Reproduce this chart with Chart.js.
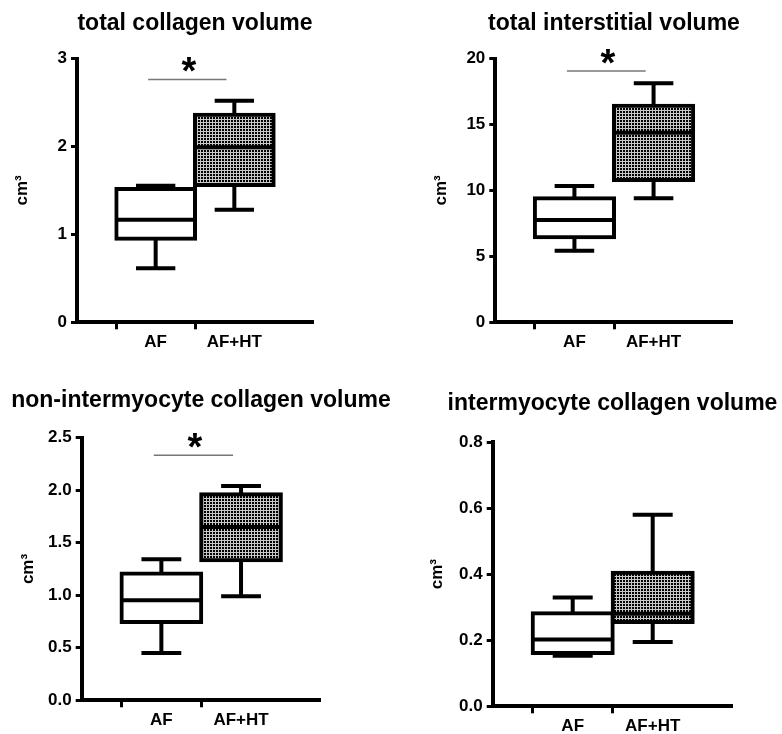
<!DOCTYPE html>
<html>
<head>
<meta charset="utf-8">
<script src="https://cdn.jsdelivr.net/npm/chart.js@4.4.1/dist/chart.umd.min.js"></script>
<style>
  html, body { margin: 0; padding: 0; background: #fff; overflow: hidden; }
  body { width: 782px; height: 734px; position: relative; }
  canvas { position: absolute; }
</style>
</head>
<body>
<canvas id="collagen" width="390" height="367" style="left:0;top:0"></canvas>
<canvas id="interstitial" width="372" height="367" style="left:428px;top:0"></canvas>
<canvas id="nonInter" width="402" height="367" style="left:0;top:367px"></canvas>
<canvas id="inter" width="375" height="367" style="left:425px;top:367px"></canvas>
<script>
const groups = ['AF', 'AF+HT'];

// box stats per group: [min, q1, median, q3, max]
const collagenAF = [0.616, 0.95, 1.166, 1.515, 1.553];
const collagenHT = [1.28, 1.56, 1.99, 2.36, 2.52];
const collagenTicks = [0, 1, 2, 3];
const collagenSig = 2.76;

const interstitialAF = [5.43, 6.44, 7.76, 9.40, 10.33];
const interstitialHT = [9.40, 10.79, 14.37, 16.42, 18.12];
const interstitialTicks = [0, 5, 10, 15, 20];
const interstitialSig = 19.05;

const nonInterAF = [0.45, 0.746, 0.952, 1.206, 1.343];
const nonInterHT = [0.99, 1.333, 1.65, 1.962, 2.04];
const nonInterTicks = [0, 0.5, 1.0, 1.5, 2.0, 2.5];
const nonInterSig = 2.333;

const interAF = [0.153, 0.161, 0.202, 0.282, 0.329];
const interHT = [0.195, 0.255, 0.28, 0.404, 0.58];
const interTicks = [0, 0.2, 0.4, 0.6, 0.8];

Chart.defaults.font.family = '"Liberation Sans", Arial, sans-serif';
Chart.defaults.color = '#000';

function checkerPattern() {
    const c = document.createElement('canvas');
    c.width = 3;
    c.height = 3;
    const g = c.getContext('2d');
    g.fillStyle = '#c8c8c8';
    g.fillRect(0, 0, 3, 3);
    g.fillStyle = '#000';
    g.fillRect(0, 0, 2, 2);
    return g.createPattern(c, 'repeat');
}
const hatch = checkerPattern();

// whiskers under the boxes, medians on top
const boxPlot = {
    id: 'boxPlot',
    beforeDatasetsDraw(chart, args, opts) {
        const { ctx, scales: { x, y } } = chart;
        const bars = chart.getDatasetMeta(0).data;
        ctx.save();
        ctx.strokeStyle = '#000';
        ctx.lineWidth = 4;
        opts.stats.forEach((s, i) => {
            const cx = x.getPixelForValue(i + 1);
            const half = bars[i + 1].width / 4;
            const [lo, q1, , q3, hi] = s.map(v => y.getPixelForValue(v));
            ctx.beginPath();
            ctx.moveTo(cx, q1); ctx.lineTo(cx, lo);
            ctx.moveTo(cx, q3); ctx.lineTo(cx, hi);
            ctx.moveTo(cx - half, lo); ctx.lineTo(cx + half, lo);
            ctx.moveTo(cx - half, hi); ctx.lineTo(cx + half, hi);
            ctx.stroke();
        });
        ctx.restore();
    },
    afterDatasetsDraw(chart, args, opts) {
        const { ctx, scales: { x, y } } = chart;
        const bars = chart.getDatasetMeta(0).data;
        ctx.save();
        ctx.strokeStyle = '#000';
        ctx.lineWidth = 4;
        opts.stats.forEach((s, i) => {
            const cx = x.getPixelForValue(i + 1);
            const half = bars[i + 1].width / 2;
            const my = y.getPixelForValue(s[2]);
            ctx.beginPath();
            ctx.moveTo(cx - half, my);
            ctx.lineTo(cx + half, my);
            ctx.stroke();
        });
        ctx.restore();
    }
};

// thin comparison line with an asterisk above it
const sigBar = {
    id: 'sigBar',
    afterDatasetsDraw(chart, args, opts) {
        const { ctx, scales: { x, y } } = chart;
        const x1 = x.getPixelForValue(opts.span[0]);
        const x2 = x.getPixelForValue(opts.span[1]);
        const ly = y.getPixelForValue(opts.level);
        ctx.save();
        ctx.strokeStyle = '#777';
        ctx.lineWidth = 1.5;
        ctx.beginPath();
        ctx.moveTo(x1, ly);
        ctx.lineTo(x2, ly);
        ctx.stroke();
        ctx.fillStyle = '#000';
        ctx.font = 'bold 38px "Liberation Sans", Arial, sans-serif';
        ctx.textAlign = 'center';
        ctx.textBaseline = 'alphabetic';
        ctx.fillText('*', (x1 + x2) / 2 + 1.5, ly + 4.5);
        ctx.restore();
    }
};

function makePanel(id, cfg) {
    const canvas = document.getElementById(id);
    const W = canvas.width, H = canvas.height;
    const f = cfg.frame;
    const titleLine = 23 * 1.2;

    return new Chart(canvas, {
        type: 'bar',
        data: {
            labels: ['', ...groups, ''],
            datasets: [{
                data: [null, [cfg.af[1], cfg.af[3]], [cfg.ht[1], cfg.ht[3]], null],
                backgroundColor: ['#fff', '#fff', hatch, '#fff'],
                borderColor: '#000',
                borderWidth: 4,
                borderSkipped: false,
                inflateAmount: 2,
                barPercentage: 1,
                categoryPercentage: 1
            }]
        },
        options: {
            responsive: false,
            animation: false,
            devicePixelRatio: 1,
            events: [],
            layout: { padding: 0 },
            plugins: {
                legend: { display: false },
                tooltip: { enabled: false },
                title: {
                    display: true,
                    text: cfg.title,
                    color: '#000',
                    font: { size: 23, weight: 'bold' },
                    padding: { top: cfg.titleTop, bottom: f.top - cfg.titleTop - titleLine }
                },
                boxPlot: { stats: [cfg.af, cfg.ht] },
                sigBar: cfg.sig == null ? false : { level: cfg.sig, span: [0.905, 1.9] }
            },
            scales: {
                x: {
                    type: 'category',
                    offset: false,
                    grid: {
                        drawOnChartArea: false,
                        tickLength: 7,
                        tickWidth: 3,
                        tickColor: c => (c.index === 1 || c.index === 2) ? '#000' : 'rgba(0,0,0,0)'
                    },
                    border: { color: '#000', width: 4 },
                    ticks: { font: { size: 17, weight: 'bold' }, padding: 3, maxRotation: 0, autoSkip: false },
                    afterFit: s => { s.height = H - f.bottom; }
                },
                y: {
                    min: cfg.ticks[0],
                    max: cfg.ticks[cfg.ticks.length - 1],
                    afterBuildTicks: s => { s.ticks = cfg.ticks.map(v => ({ value: v })); },
                    grid: { drawOnChartArea: false, tickLength: 6, tickWidth: 3, tickColor: '#000' },
                    border: { color: '#000', width: 4 },
                    ticks: {
                        font: { size: 17, weight: 'bold' },
                        padding: 4,
                        callback: v => v.toFixed(cfg.decimals)
                    },
                    title: {
                        display: true,
                        text: 'cm³',
                        font: { size: 17, weight: 'bold' },
                        padding: { top: cfg.unitPad, bottom: 0 }
                    },
                    afterFit: s => { s.width = f.left; }
                },
                // empty spacer on the right so the plot sits centred under the title
                spacer: {
                    type: 'linear',
                    position: 'right',
                    grid: { display: false },
                    ticks: { display: false },
                    border: { display: false },
                    afterFit: s => { s.width = W - f.right; }
                }
            }
        },
        plugins: [boxPlot, sigBar]
    });
}

makePanel('collagen', {
    title: 'total collagen volume',
    af: collagenAF, ht: collagenHT, ticks: collagenTicks, decimals: 0, sig: collagenSig,
    frame: { left: 77, right: 313, top: 58.5, bottom: 322.3 }, titleTop: 10, unitPad: 12.6
});
makePanel('interstitial', {
    title: 'total interstitial volume',
    af: interstitialAF, ht: interstitialHT, ticks: interstitialTicks, decimals: 0, sig: interstitialSig,
    frame: { left: 67.3, right: 304.7, top: 58.5, bottom: 322.3 }, titleTop: 10, unitPad: 2.8
});
makePanel('nonInter', {
    title: 'non-intermyocyte collagen volume',
    af: nonInterAF, ht: nonInterHT, ticks: nonInterTicks, decimals: 1, sig: nonInterSig,
    frame: { left: 81.7, right: 320.7, top: 70.7, bottom: 333.3 }, titleTop: 19.5, unitPad: 18.5
});
makePanel('inter', {
    title: 'intermyocyte collagen volume',
    af: interAF, ht: interHT, ticks: interTicks, decimals: 1, sig: null,
    frame: { left: 67.7, right: 307.7, top: 75, bottom: 339.3 }, titleTop: 22.7, unitPad: 2.1
});
</script>
</body>
</html>
